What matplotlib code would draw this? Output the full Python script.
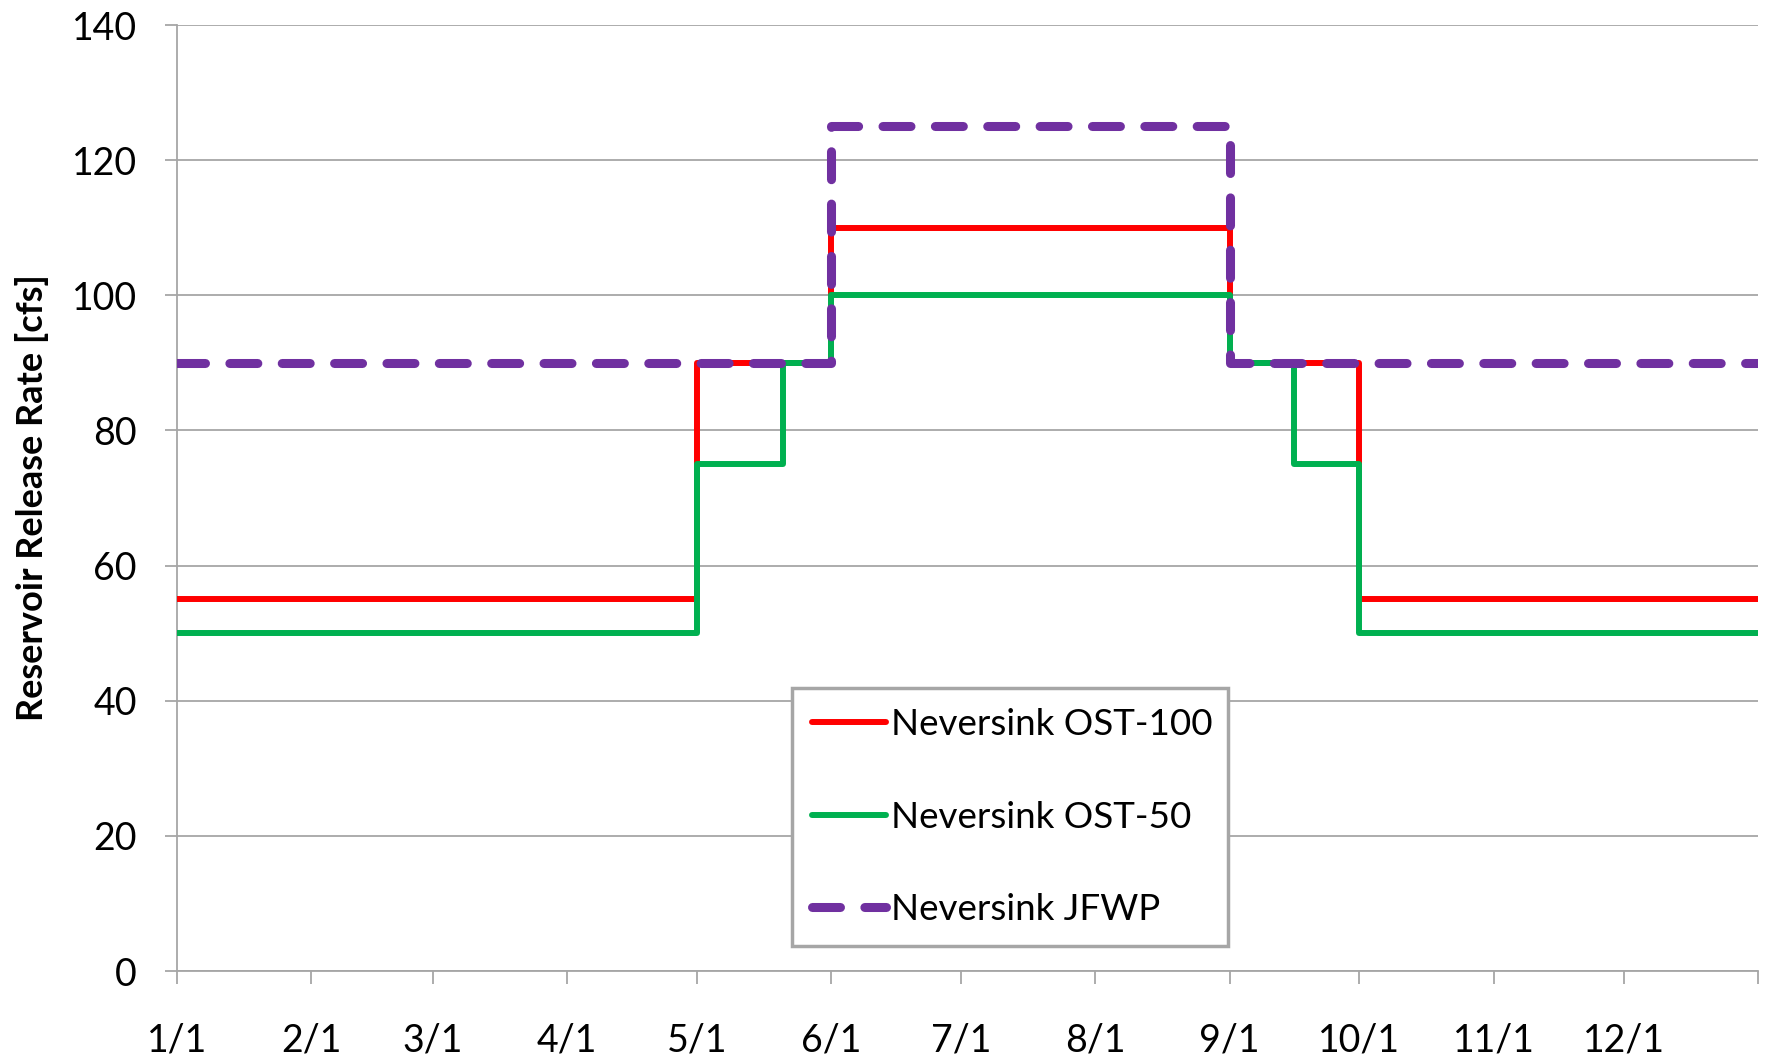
import matplotlib.pyplot as plt
import numpy as np

# day-of-year breakpoints and release rates (cfs), stepwise
ost100Days = [0, 120, 151, 243, 273, 365]
ost100Values = [55, 90, 110, 90, 55, 55]

ost50Days = [0, 120, 140, 151, 243, 258, 273, 365]
ost50Values = [50, 75, 90, 100, 90, 75, 50, 50]

jfwpDays = [0, 151, 243, 365]
jfwpValues = [90, 125, 90, 90]

monthStarts = [0, 31, 59, 90, 120, 151, 181, 212, 243, 273, 304, 334, 365]
monthLabels = ['1/1', '2/1', '3/1', '4/1', '5/1', '6/1', '7/1', '8/1', '9/1', '10/1', '11/1', '12/1', '']

plt.rcParams['font.family'] = ['Lato', 'DejaVu Sans']
gridGray = '#A6A6A6'

fig = plt.figure(figsize=(17.75, 10.64), dpi=100)
ax = fig.add_axes([0.0997, 0.0874, 0.8907, 0.8891])

ax.plot(ost100Days, ost100Values, drawstyle='steps-post', color='#FF0000', linewidth=4.3,
        label='Neversink OST-100', solid_capstyle='round', zorder=3)
ax.plot(ost50Days, ost50Values, drawstyle='steps-post', color='#00B050', linewidth=4.3,
        label='Neversink OST-50', solid_capstyle='round', zorder=3)
ax.plot(jfwpDays, jfwpValues, drawstyle='steps-post', color='#7030A0', linewidth=6.5,
        dashes=(3.1, 2.7), dash_capstyle='round', label='Neversink JFWP', zorder=4)

ax.set_xlim(0, 365)
ax.set_ylim(0, 140)
ax.set_yticks(np.arange(0, 141, 20))
ax.set_xticks(monthStarts)
ax.set_xticklabels(monthLabels)

ax.grid(axis='y', color=gridGray, linewidth=1.3)
ax.set_axisbelow(True)
for side in ['top', 'right']:
    ax.spines[side].set_visible(False)
for side in ['left', 'bottom']:
    ax.spines[side].set_color(gridGray)
    ax.spines[side].set_linewidth(1.3)

ax.tick_params(axis='y', length=9, width=1.3, color=gridGray, pad=20, labelsize=27)
ax.tick_params(axis='x', length=9, width=1.3, color=gridGray, pad=28, labelsize=27)

ax.set_ylabel('Reservoir Release Rate [cfs]', fontsize=26, fontweight='bold', labelpad=16)

leg = ax.legend(loc='lower left', bbox_to_anchor=(0.389, 0.026, 0.276, 0.285), mode='expand',
                fontsize=26.5, frameon=True, fancybox=False, handlelength=2.0,
                handletextpad=0.15, labelspacing=1.62, borderpad=0.55, borderaxespad=0)
leg.get_frame().set_edgecolor('#A6A6A6')
leg.get_frame().set_linewidth(2.5)
leg.get_frame().set_alpha(1)

fig.savefig('out.png', dpi=100)
